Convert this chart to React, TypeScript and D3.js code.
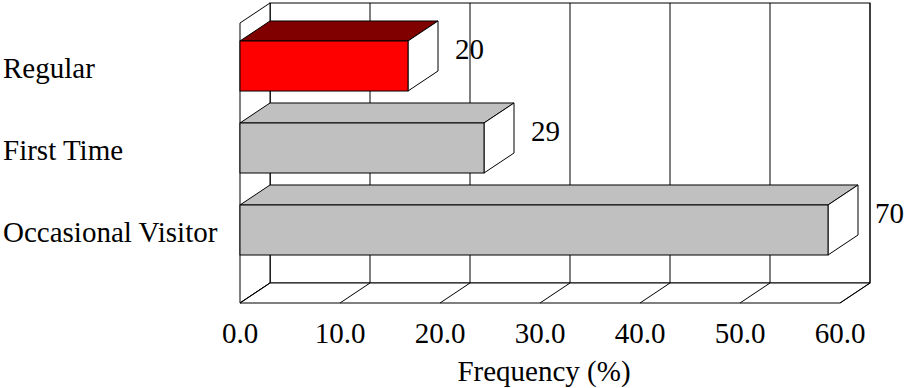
import React from "react";
import * as d3 from "d3";

const categories = ["Regular", "First Time", "Occasional Visitor"];
const percentValues = [16.8, 24.4, 58.8];
const countLabels = ["20", "29", "70"];
const tickValues = [0, 10, 20, 30, 40, 50, 60];
const frontColors = ["#FF0000", "#C0C0C0", "#C0C0C0"];
const topColors = ["#800000", "#C0C0C0", "#C0C0C0"];

const W = 904;
const H = 388;
const DX = 30;
const DY = -20;
const textStyle: React.CSSProperties = {
  fontFamily: '"Liberation Serif", "Times New Roman", serif',
  fontSize: "29px",
};

export default function App() {
  const x = d3.scaleLinear().domain([0, 60]).range([240, 840]);
  const y = d3
    .scaleBand<string>()
    .domain(categories)
    .range([25, 271])
    .paddingInner(0.39)
    .paddingOuter(0.195);
  const floorY = 303;
  const topY = 23;
  const x0 = x(0);
  const x1 = x(60);

  const pts = (p: [number, number][]) => p.map((q) => q.join(",")).join(" ");

  return (
    <svg
      width={W}
      height={H}
      style={{ position: "absolute", left: 0, top: 0, background: "#fff" }}
    >
      <rect
        x={x0 + DX}
        y={topY + DY}
        width={x1 - x0}
        height={floorY - topY}
        fill="#fff"
        stroke="#000"
        strokeWidth={1}
      />
      {tickValues.map((t) => (
        <line
          key={"g" + t}
          x1={x(t) + DX}
          x2={x(t) + DX}
          y1={topY + DY}
          y2={floorY + DY}
          stroke="#000"
          strokeWidth={1}
        />
      ))}
      <polygon
        points={pts([
          [x0, topY],
          [x0 + DX, topY + DY],
          [x0 + DX, floorY + DY],
          [x0, floorY],
        ])}
        fill="#fff"
        stroke="#000"
        strokeWidth={1}
      />
      <polygon
        points={pts([
          [x0, floorY],
          [x1, floorY],
          [x1 + DX, floorY + DY],
          [x0 + DX, floorY + DY],
        ])}
        fill="#fff"
        stroke="#000"
        strokeWidth={1}
      />
      {tickValues.map((t) => (
        <line
          key={"f" + t}
          x1={x(t)}
          y1={floorY}
          x2={x(t) + DX}
          y2={floorY + DY}
          stroke="#000"
          strokeWidth={1}
        />
      ))}
      {categories.map((c, i) => {
        const by = y(c)!;
        const bh = y.bandwidth();
        const bx = x(percentValues[i]);
        return (
          <g key={c}>
            <polygon
              points={pts([
                [x0, by],
                [x0 + DX, by + DY],
                [bx + DX, by + DY],
                [bx, by],
              ])}
              fill={topColors[i]}
              stroke="#000"
              strokeWidth={1}
            />
            <polygon
              points={pts([
                [bx, by],
                [bx + DX, by + DY],
                [bx + DX, by + bh + DY],
                [bx, by + bh],
              ])}
              fill="#fff"
              stroke="#000"
              strokeWidth={1}
            />
            <rect
              x={x0}
              y={by}
              width={bx - x0}
              height={bh}
              fill={frontColors[i]}
              stroke="#000"
              strokeWidth={1}
            />
            <text
              x={bx + DX + 17}
              y={by + bh / 2 + DY + 13}
              style={textStyle}
              fill="#000"
            >
              {countLabels[i]}
            </text>
            <text x={3} y={by + bh / 2 + 11.5} style={textStyle} fill="#000">
              {c}
            </text>
          </g>
        );
      })}
      {tickValues.map((t) => (
        <text
          key={"t" + t}
          x={x(t)}
          y={343}
          style={textStyle}
          textAnchor="middle"
          fill="#000"
        >
          {d3.format(".1f")(t)}
        </text>
      ))}
      <text x={544} y={381} style={textStyle} textAnchor="middle" fill="#000">
        Frequency (%)
      </text>
    </svg>
  );
}
